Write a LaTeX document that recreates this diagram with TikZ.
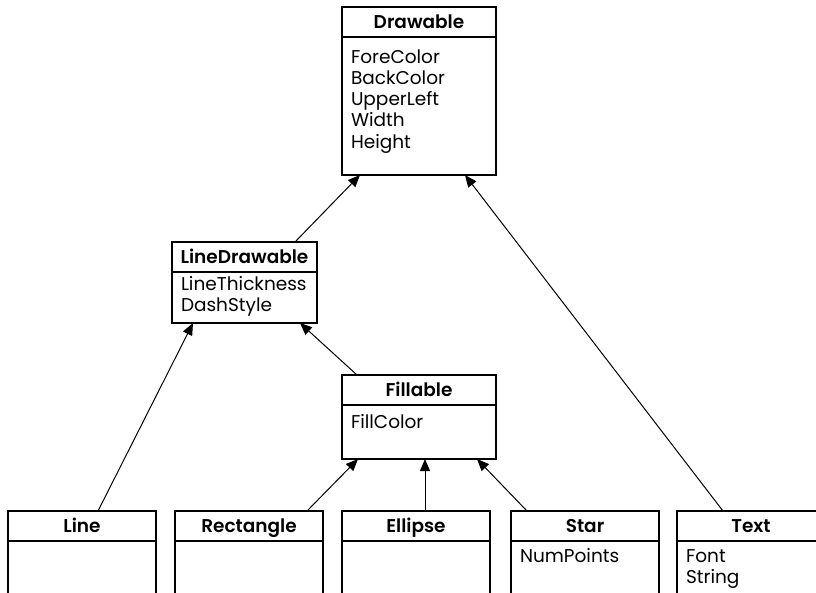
\documentclass[tikz,border=0pt]{standalone}
\usepackage{fontspec}
\setmainfont{Poppins}[BoldFont={Poppins SemiBold}]
\usetikzlibrary{arrows.meta}
\newcommand{\attrbox}[4]{\parbox[c][#2pt][t]{#1pt}{\leftskip=9pt\baselineskip=21.3pt\rule{0pt}{#3pt}#4}}
\newcommand{\umlfont}{\fontsize{18.5pt}{21.3pt}\selectfont}
\tikzset{
  hdr/.style={draw, line width=1.3pt, anchor=north west, minimum height=30pt, inner sep=0pt, outer sep=0pt, text height=14.5pt, text depth=2.5pt, font=\umlfont\bfseries},
  bdy/.style={draw, line width=1.3pt, anchor=north west, inner sep=0pt, outer sep=0pt, font=\umlfont},
  inh/.style={line width=1pt, -{Triangle[length=12pt,width=10pt]}}
}
\begin{document}
\begin{tikzpicture}[x=1pt,y=-1pt]
\useasboundingbox (0,0) rectangle (816,592);
\clip (0,0) rectangle (816,592);
% Drawable
\node[hdr, minimum width=154pt] (dH) at (342,7) {Drawable};
\node[bdy] (dB) at (dH.south west) {\attrbox{154}{138}{26}{ForeColor\\BackColor\\UpperLeft\\Width\\Height}};
% LineDrawable
\node[hdr, minimum width=145pt] (lH) at (172,242) {LineDrawable};
\node[bdy] (lB) at (lH.south west) {\attrbox{145}{51}{18}{LineThickness\\DashStyle}};
% Fillable
\node[hdr, minimum width=154pt] (fH) at (342,375) {Fillable};
\node[bdy] (fB) at (fH.south west) {\attrbox{154}{54}{23}{FillColor}};
% bottom row
\node[hdr, minimum width=148pt] (lnH) at (8,511) {Line};
\node[bdy] (lnB) at (lnH.south west) {\attrbox{148}{80}{21}{}};
\node[hdr, minimum width=148pt] (rH) at (175,511) {Rectangle};
\node[bdy] (rB) at (rH.south west) {\attrbox{148}{80}{21}{}};
\node[hdr, minimum width=148pt] (eH) at (342,511) {Ellipse};
\node[bdy] (eB) at (eH.south west) {\attrbox{148}{80}{21}{}};
\node[hdr, minimum width=148pt] (sH) at (511,511) {Star};
\node[bdy] (sB) at (sH.south west) {\attrbox{148}{80}{21}{NumPoints}};
\node[hdr, minimum width=148pt] (tH) at (677,511) {Text};
\node[bdy] (tB) at (tH.south west) {\attrbox{148}{80}{21}{Font\\String}};
% inheritance connectors
\draw[inh] ([xshift=50.5pt]lH.north) -- ([xshift=-59pt]dB.south);
\draw[inh] ([xshift=-28pt]tH.north) -- ([xshift=46pt]dB.south);
\draw[inh] ([xshift=16pt]lnH.north) -- ([xshift=-51.5pt]lB.south);
\draw[inh] ([xshift=-62pt]fH.north) -- ([xshift=55.5pt]lB.south);
\draw[inh] ([xshift=58pt]rH.north) -- ([xshift=-61pt]fB.south);
\draw[inh] ([xshift=9pt]eH.north) -- ([xshift=6pt]fB.south);
\draw[inh] ([xshift=-58pt]sH.north) -- ([xshift=58pt]fB.south);
\end{tikzpicture}
\end{document}
